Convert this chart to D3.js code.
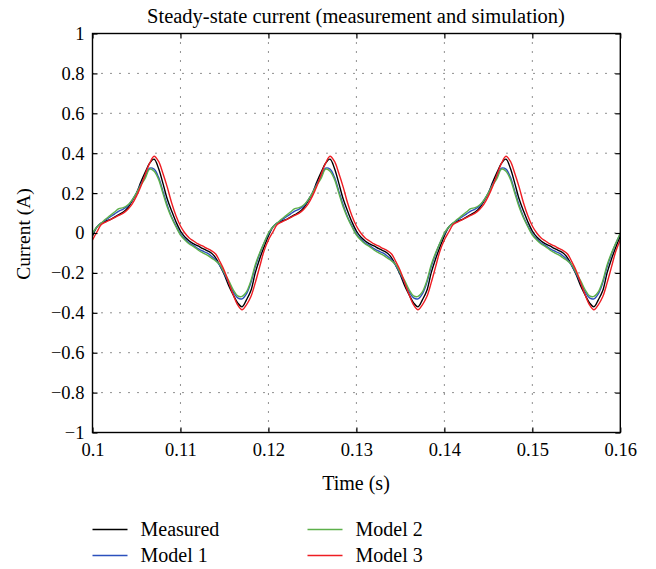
<!DOCTYPE html>
<html>
<head>
<meta charset="utf-8">
<script src="https://cdn.jsdelivr.net/npm/d3@7"></script>
<style>
  body { margin: 0; background: #fff; }
  text { font-family: "Liberation Serif", "DejaVu Serif", serif; fill: #000; }
</style>
</head>
<body>
<svg id="chart" width="656" height="569"></svg>
<script>
const seriesNames = ["Measured", "Model 1", "Model 2", "Model 3"];
const xTicks = [0.1, 0.11, 0.12, 0.13, 0.14, 0.15, 0.16];
const yTicks = [-1, -0.8, -0.6, -0.4, -0.2, 0, 0.2, 0.4, 0.6, 0.8, 1];

const measured = [
  -0.015,0.03,0.05,0.06,0.067,0.08,0.092,0.105,0.125,0.16,0.2,0.255,0.305,0.35,0.37,0.325,0.25,0.17,0.11,0.055,
  0.01,-0.02,-0.04,-0.055,-0.065,-0.077,-0.088,-0.1,-0.125,-0.165,-0.21,-0.265,-0.31,-0.35,-0.37,-0.335,-0.29,-0.2,-0.13,-0.07,
  -0.015,0.03,0.05,0.06,0.067,0.08,0.092,0.105,0.125,0.16,0.2,0.255,0.305,0.35,0.37,0.325,0.25,0.17,0.11,0.055,
  0.01,-0.02,-0.04,-0.055,-0.065,-0.077,-0.088,-0.1,-0.125,-0.165,-0.21,-0.265,-0.31,-0.35,-0.37,-0.335,-0.29,-0.2,-0.13,-0.07,
  -0.015,0.03,0.05,0.06,0.067,0.08,0.092,0.105,0.125,0.16,0.2,0.255,0.305,0.35,0.37,0.325,0.25,0.17,0.11,0.055,
  0.01,-0.02,-0.04,-0.055,-0.065,-0.077,-0.088,-0.1,-0.125,-0.165,-0.21,-0.265,-0.31,-0.35,-0.37,-0.335,-0.29,-0.2,-0.13,-0.07,
  -0.015
];
const model1 = [
  -0.005,0.03,0.05,0.065,0.08,0.095,0.11,0.12,0.135,0.165,0.2,0.245,0.285,0.325,0.32,0.28,0.21,0.14,0.08,0.035,
  -0.005,-0.03,-0.05,-0.063,-0.078,-0.09,-0.1,-0.115,-0.135,-0.165,-0.205,-0.25,-0.295,-0.325,-0.33,-0.305,-0.25,-0.17,-0.105,-0.05,
  -0.005,0.03,0.05,0.065,0.08,0.095,0.11,0.12,0.135,0.165,0.2,0.245,0.285,0.325,0.32,0.28,0.21,0.14,0.08,0.035,
  -0.005,-0.03,-0.05,-0.063,-0.078,-0.09,-0.1,-0.115,-0.135,-0.165,-0.205,-0.25,-0.295,-0.325,-0.33,-0.305,-0.25,-0.17,-0.105,-0.05,
  -0.005,0.03,0.05,0.065,0.08,0.095,0.11,0.12,0.135,0.165,0.2,0.245,0.285,0.325,0.32,0.28,0.21,0.14,0.08,0.035,
  -0.005,-0.03,-0.05,-0.063,-0.078,-0.09,-0.1,-0.115,-0.135,-0.165,-0.205,-0.25,-0.295,-0.325,-0.33,-0.305,-0.25,-0.17,-0.105,-0.05,
  -0.005
];
const model2 = [
  0,0.03,0.05,0.07,0.087,0.105,0.122,0.127,0.14,0.165,0.2,0.24,0.275,0.32,0.31,0.27,0.2,0.13,0.075,0.03,
  -0.01,-0.035,-0.055,-0.068,-0.085,-0.098,-0.11,-0.125,-0.14,-0.16,-0.2,-0.24,-0.285,-0.315,-0.318,-0.295,-0.24,-0.16,-0.1,-0.05,
  0,0.03,0.05,0.07,0.087,0.105,0.122,0.127,0.14,0.165,0.2,0.24,0.275,0.32,0.31,0.27,0.2,0.13,0.075,0.03,
  -0.01,-0.035,-0.055,-0.068,-0.085,-0.098,-0.11,-0.125,-0.14,-0.16,-0.2,-0.24,-0.285,-0.315,-0.318,-0.295,-0.24,-0.16,-0.1,-0.05,
  0,0.03,0.05,0.07,0.087,0.105,0.122,0.127,0.14,0.165,0.2,0.24,0.275,0.32,0.31,0.27,0.2,0.13,0.075,0.03,
  -0.01,-0.035,-0.055,-0.068,-0.085,-0.098,-0.11,-0.125,-0.14,-0.16,-0.2,-0.24,-0.285,-0.315,-0.318,-0.295,-0.24,-0.16,-0.1,-0.05,
  0
];
const model3 = [
  -0.035,0.005,0.042,0.055,0.066,0.077,0.088,0.1,0.118,0.145,0.185,0.235,0.295,0.35,0.385,0.36,0.3,0.23,0.15,0.085,
  0.035,0,-0.025,-0.04,-0.055,-0.065,-0.077,-0.088,-0.105,-0.145,-0.19,-0.25,-0.31,-0.36,-0.385,-0.36,-0.32,-0.25,-0.17,-0.09,
  -0.035,0.005,0.042,0.055,0.066,0.077,0.088,0.1,0.118,0.145,0.185,0.235,0.295,0.35,0.385,0.36,0.3,0.23,0.15,0.085,
  0.035,0,-0.025,-0.04,-0.055,-0.065,-0.077,-0.088,-0.105,-0.145,-0.19,-0.25,-0.31,-0.36,-0.385,-0.36,-0.32,-0.25,-0.17,-0.09,
  -0.035,0.005,0.042,0.055,0.066,0.077,0.088,0.1,0.118,0.145,0.185,0.235,0.295,0.35,0.385,0.36,0.3,0.23,0.15,0.085,
  0.035,0,-0.025,-0.04,-0.055,-0.065,-0.077,-0.088,-0.105,-0.145,-0.19,-0.25,-0.31,-0.36,-0.385,-0.36,-0.32,-0.25,-0.17,-0.09,
  -0.035
];

const time = d3.range(measured.length).map(i => +(0.1 + i * 0.0005).toFixed(4));
const seriesColors = ["#000000", "#2b50bd", "#5db04a", "#ee1d23"];
const allSeries = [measured, model1, model2, model3];

var svg = d3.select("#chart");
var plotL = 92.5, plotR = 620.3, plotT = 33.5, plotB = 432.5;

var x = d3.scaleLinear().domain([0.1, 0.16]).range([plotL, plotR]);
var y = d3.scaleLinear().domain([-1, 1]).range([plotB, plotT]);

svg.append("rect").attr("width", 656).attr("height", 569).attr("fill", "#fff");

// dotted grid
svg.append("g").selectAll("line")
  .data(xTicks.slice(1, -1))
  .enter().append("line")
  .attr("x1", d => x(d)).attr("x2", d => x(d))
  .attr("y1", plotT).attr("y2", plotB)
  .attr("stroke", "#222").attr("stroke-width", 1)
  .attr("stroke-dasharray", "1,8");
svg.append("g").selectAll("line")
  .data(yTicks.slice(1, -1))
  .enter().append("line")
  .attr("x1", plotL).attr("x2", plotR)
  .attr("y1", d => y(d)).attr("y2", d => y(d))
  .attr("stroke", "#222").attr("stroke-width", 1)
  .attr("stroke-dasharray", "1,8");

// curves
var line = d3.line()
  .x((d, i) => x(time[i]))
  .y(d => y(d))
  .curve(d3.curveCatmullRom.alpha(0.5));

svg.append("g").selectAll("path")
  .data(allSeries)
  .enter().append("path")
  .attr("d", d => line(d))
  .attr("fill", "none")
  .attr("stroke", (d, i) => seriesColors[i])
  .attr("stroke-width", 1.4);

// axes with inward ticks
var fmt = d3.format("~g");
var axB = svg.append("g").attr("transform", "translate(0," + plotB + ")")
  .call(d3.axisBottom(x).tickValues(xTicks).tickSize(-5).tickPadding(10).tickFormat(fmt));
var axL = svg.append("g").attr("transform", "translate(" + plotL + ",0)")
  .call(d3.axisLeft(y).tickValues(yTicks).tickSize(-5).tickPadding(8).tickFormat(fmt));
var axT = svg.append("g").attr("transform", "translate(0," + plotT + ")")
  .call(d3.axisTop(x).tickValues(xTicks).tickSize(-5).tickFormat(""));
var axR = svg.append("g").attr("transform", "translate(" + plotR + ",0)")
  .call(d3.axisRight(y).tickValues(yTicks).tickSize(-5).tickFormat(""));

[axB, axL, axT, axR].forEach(a => {
  a.select(".domain").remove();
  a.selectAll("line").attr("stroke", "#000").attr("stroke-width", 1.2);
  a.selectAll("text").style("font-family", '"Liberation Serif", serif').style("font-size", "18.5px").attr("fill", "#000");
});

svg.append("rect")
  .attr("x", plotL).attr("y", plotT)
  .attr("width", plotR - plotL).attr("height", plotB - plotT)
  .attr("fill", "none").attr("stroke", "#000").attr("stroke-width", 1.4);

// titles
svg.append("text")
  .attr("x", 356).attr("y", 23)
  .attr("text-anchor", "middle").style("font-size", "20.5px")
  .text("Steady-state current (measurement and simulation)");
svg.append("text")
  .attr("x", 356).attr("y", 490)
  .attr("text-anchor", "middle").style("font-size", "20px")
  .text("Time (s)");
svg.append("text")
  .attr("transform", "translate(23," + 234 + ") rotate(-90)")
  .attr("text-anchor", "middle").attr("dy", "0.35em").style("font-size", "19.5px")
  .text("Current (A)");

// legend, two columns
var legendPos = [[92.5, 529.5], [92.5, 555.5], [307.5, 529.5], [307.5, 555.5]];
var leg = svg.append("g").selectAll("g")
  .data(seriesNames)
  .enter().append("g")
  .attr("transform", (d, i) => "translate(" + legendPos[i][0] + "," + legendPos[i][1] + ")");
leg.append("line")
  .attr("x1", 0).attr("x2", 35)
  .attr("stroke", (d, i) => seriesColors[i]).attr("stroke-width", 1.4);
leg.append("text")
  .attr("x", 48).attr("dy", "0.33em").style("font-size", "20px")
  .text(d => d);
</script>
</body>
</html>
